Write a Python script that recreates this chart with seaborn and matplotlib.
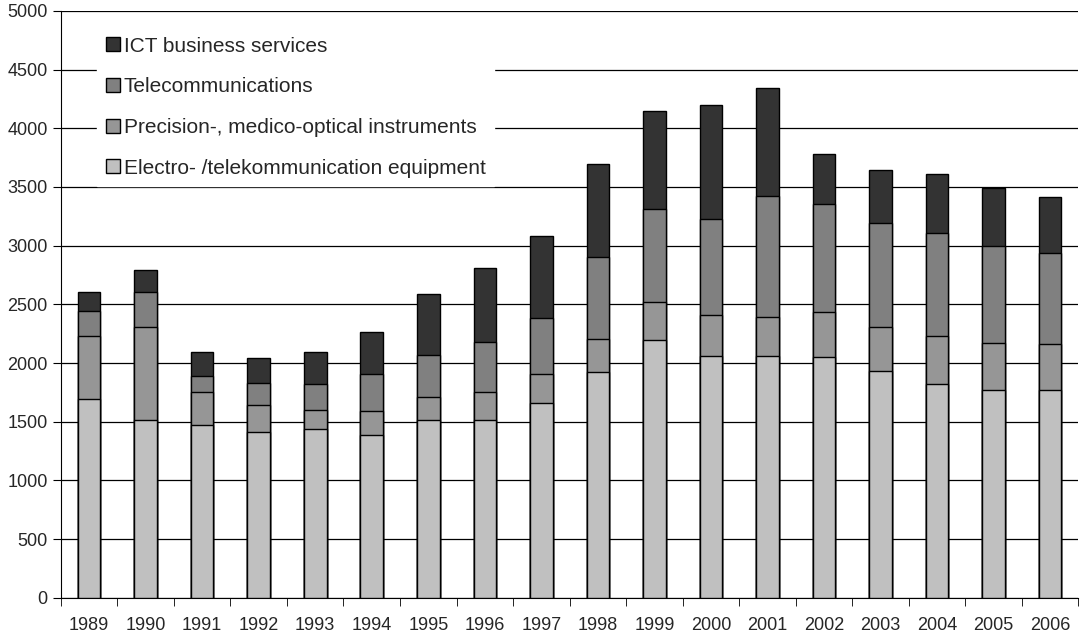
import matplotlib
matplotlib.use("Agg")
import matplotlib.pyplot as plt
from matplotlib.patches import Patch
import seaborn as sns
import pandas as pd
import numpy as np

years = [str(y) for y in range(1989, 2007)]
electro = [1695, 1511, 1468, 1411, 1434, 1386, 1511, 1511, 1659, 1920,
           2193, 2064, 2064, 2052, 1932, 1820, 1774, 1774]
precision = [532, 798, 281, 231, 168, 204, 199, 238, 249, 284,
             328, 343, 328, 379, 375, 409, 398, 386]
telecom = [218, 295, 137, 187, 218, 318, 358, 432, 478, 696,
           793, 818, 1027, 922, 889, 877, 829, 773]
ict = [162, 185, 207, 216, 273, 358, 516, 631, 696, 792,
       832, 969, 921, 429, 444, 500, 491, 480]

series = ["Electro- /telekommunication equipment",
          "Precision-, medico-optical instruments",
          "Telecommunications",
          "ICT business services"]
colors = ["#C0C0C0", "#969696", "#808080", "#333333"]

df = pd.DataFrame({"year": years, series[0]: electro, series[1]: precision,
                   series[2]: telecom, series[3]: ict}).set_index("year")
cum = df.cumsum(axis=1).reset_index()

sns.set_style("white")
plt.rcParams["font.family"] = ["Liberation Sans", "DejaVu Sans"]

fig, ax = plt.subplots(figsize=(10.86, 6.36), dpi=100)
fig.subplots_adjust(left=0.056, right=0.993, top=0.983, bottom=0.060)

# stacked bars: draw cumulative totals from the top series down
for name, col in reversed(list(zip(series, colors))):
    sns.barplot(data=cum, x="year", y=name, color=col, width=0.4,
                edgecolor="black", linewidth=1, saturation=1, ax=ax, zorder=3)

ax.set_ylim(0, 5000)
ax.set_xlim(-0.5, len(years) - 0.5)
ax.set_yticks(np.arange(0, 5001, 500))
ax.yaxis.grid(True, color="black", linewidth=0.9)
ax.set_axisbelow(True)
ax.set_xlabel("")
ax.set_ylabel("")

for s in ["top", "right"]:
    ax.spines[s].set_visible(False)
ax.spines["left"].set_color("black")
ax.spines["bottom"].set_color("black")

ax.tick_params(axis="x", which="major", length=0, labelsize=13, pad=14)
ax.set_xticks(np.arange(-0.5, len(years), 1), minor=True)
ax.tick_params(axis="x", which="minor", length=6, direction="out", color="black", bottom=True)
ax.tick_params(axis="y", length=6, direction="out", color="black", labelsize=13, left=True)

handles = [Patch(facecolor=c, edgecolor="black", linewidth=1) for c in colors]
leg = ax.legend(handles[::-1], series[::-1], loc="upper left",
                bbox_to_anchor=(0.0256, 0.988), frameon=True, fontsize=15,
                handlelength=0.67, handleheight=0.67, handletextpad=0.2,
                labelspacing=1.04, borderpad=0.4, fancybox=False, framealpha=1)
leg.get_frame().set_facecolor("white")
leg.get_frame().set_edgecolor("white")
leg.set_zorder(5)

fig.savefig("out.png", dpi=100)
